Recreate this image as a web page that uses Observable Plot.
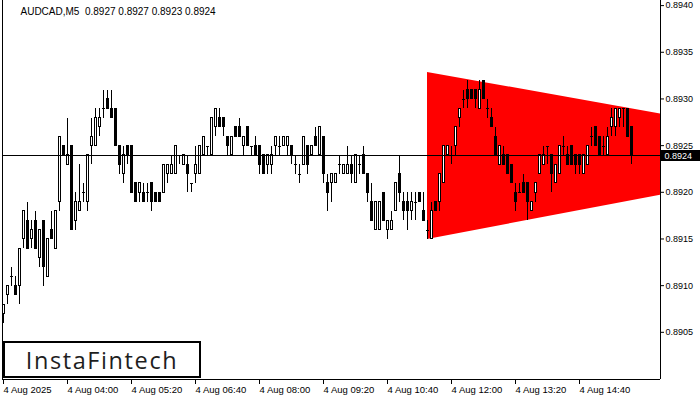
<!DOCTYPE html>
<html><head><meta charset="utf-8">
<script src="https://cdn.jsdelivr.net/npm/d3@7"></script>
<script src="https://cdn.jsdelivr.net/npm/@observablehq/plot@0.6"></script>
<style>
body{margin:0;background:#fff;}
#wrap{position:relative;width:700px;height:400px;overflow:hidden;background:#fff;}
#logo{position:absolute;left:3px;top:341px;width:194px;height:33px;border:2px solid #000;background:#fff;display:flex;align-items:center;justify-content:center;font-family:"Open Sans",sans-serif;font-weight:500;font-size:23.5px;letter-spacing:1.6px;color:#1e1e1e;}
</style></head><body>
<div id="wrap"><div id="logo">InstaFintech</div></div>
<script>
const symbol = "AUDCAD,M5";
const lastQuote = [0.8927, 0.8927, 0.8923, 0.8924];
const currentPrice = 0.8924;

const opens = [.8907,.8909,.8911,.8910,.8910,.8915,.8917,.8915,.8917,.8913,
.8917,.8911,.8916,.8914,.8919,.8925,.8923,.8925,.8917,.8918,
.8920,.8919,.8925,.8925,.8927,.8929,.8930,.8929,.8929,.8925,
.8922,.8925,.8925,.8921,.8920,.8920,.8920,.8921,.8920,.8920,
.8920,.8922,.8922,.8922,.8924,.8923,.8923,.8921,.8922,.8922,
.8924,.8925,.8924,.8927,.8928,.8928,.8926,.8924,.8927,.8927,
.8925,.8927,.8925,.8925,.8925,.8924,.8923,.8923,.8925,.8925,
.8925,.8925,.8925,.8923,.8922,.8923,.8925,.8924,.8926,.8924,
.8926,.8921,.8921,.8921,.8923,.8922,.8922,.8923,.8921,.8923,
.8924,.8922,.8919,.8916,.8916,.8920,.8916,.8916,.8918,.8922,
.8919,.8919,.8918,.8919,.8920,.8918,.8916,.8915,.8919,.8919,
.8921,.8924,.8924,.8925,.8928,.8930,.8931,.8931,.8931,.8929,
.8932,.8929,.8928,.8926,.8923,.8924,.8924,.8923,.8920,.8920,
.8921,.8921,.8918,.8920,.8922,.8923,.8925,.8924,.8921,.8922,
.8925,.8924,.8925,.8924,.8924,.8922,.8923,.8926,.8927,.8926,
.8925,.8924,.8927,.8927,.8928,.8929,.8929,.8927];

const highs = [.8908,.8910,.8912,.8911,.8914,.8918,.8919,.8917,.8918,.8916,
.8917,.8915,.8918,.8918,.8926,.8925,.8928,.8925,.8920,.8923,
.8921,.8924,.8928,.8929,.8929,.8931,.8931,.8931,.8929,.8925,
.8925,.8925,.8925,.8921,.8921,.8921,.8921,.8921,.8920,.8920,
.8923,.8923,.8924,.8925,.8924,.8924,.8924,.8921,.8925,.8925,
.8926,.8925,.8928,.8929,.8929,.8928,.8926,.8926,.8927,.8928,
.8926,.8927,.8925,.8926,.8925,.8924,.8924,.8925,.8926,.8926,
.8926,.8926,.8925,.8924,.8923,.8926,.8925,.8925,.8927,.8927,
.8926,.8922,.8922,.8922,.8924,.8923,.8925,.8924,.8924,.8924,
.8925,.8922,.8921,.8919,.8919,.8920,.8917,.8918,.8921,.8924,
.8920,.8920,.8920,.8920,.8920,.8920,.8917,.8919,.8919,.8922,
.8925,.8925,.8925,.8927,.8929,.8931,.8932,.8931,.8931,.8932,
.8932,.8930,.8929,.8927,.8925,.8925,.8924,.8923,.8921,.8921,
.8922,.8921,.8919,.8921,.8924,.8925,.8925,.8924,.8923,.8925,
.8926,.8925,.8925,.8924,.8924,.8924,.8925,.8927,.8927,.8926,
.8926,.8927,.8929,.8929,.8929,.8929,.8929,.8927];

const lows = [.8906,.8908,.8910,.8909,.8908,.8914,.8914,.8914,.8914,.8912,
.8910,.8911,.8915,.8914,.8918,.8924,.8923,.8916,.8916,.8918,
.8919,.8918,.8923,.8925,.8926,.8928,.8929,.8928,.8925,.8922,
.8921,.8923,.8920,.8919,.8919,.8919,.8919,.8918,.8919,.8919,
.8920,.8921,.8922,.8922,.8923,.8923,.8920,.8920,.8921,.8922,
.8924,.8924,.8924,.8926,.8927,.8926,.8924,.8924,.8926,.8926,
.8924,.8925,.8924,.8924,.8922,.8922,.8922,.8922,.8924,.8924,
.8925,.8924,.8923,.8922,.8921,.8923,.8922,.8924,.8925,.8924,
.8921,.8918,.8919,.8921,.8922,.8922,.8922,.8921,.8921,.8922,
.8922,.8919,.8917,.8916,.8916,.8917,.8915,.8916,.8918,.8919,
.8917,.8916,.8917,.8917,.8919,.8917,.8915,.8915,.8918,.8918,
.8921,.8924,.8923,.8924,.8927,.8929,.8929,.8930,.8929,.8929,
.8930,.8928,.8927,.8924,.8923,.8923,.8922,.8921,.8918,.8920,
.8920,.8917,.8918,.8919,.8922,.8923,.8923,.8920,.8921,.8922,
.8924,.8923,.8923,.8922,.8922,.8922,.8923,.8925,.8925,.8924,
.8924,.8924,.8926,.8926,.8927,.8927,.8926,.8923];

const closes = [.8908,.8910,.8911,.8909,.8914,.8918,.8914,.8916,.8914,.8916,
.8912,.8915,.8915,.8918,.8926,.8924,.8924,.8916,.8919,.8919,
.8920,.8924,.8926,.8928,.8928,.8929,.8929,.8928,.8925,.8923,
.8924,.8924,.8920,.8919,.8921,.8919,.8920,.8919,.8919,.8919,
.8923,.8923,.8923,.8925,.8924,.8924,.8922,.8921,.8923,.8925,
.8926,.8925,.8928,.8929,.8927,.8927,.8925,.8926,.8926,.8926,
.8926,.8925,.8925,.8924,.8923,.8922,.8924,.8924,.8926,.8925,
.8926,.8926,.8924,.8923,.8922,.8926,.8923,.8925,.8925,.8927,
.8922,.8920,.8922,.8922,.8923,.8923,.8923,.8922,.8924,.8923,
.8922,.8920,.8917,.8919,.8919,.8917,.8917,.8917,.8921,.8920,
.8918,.8918,.8919,.8919,.8919,.8917,.8916,.8918,.8918,.8922,
.8925,.8925,.8924,.8927,.8929,.8930,.8930,.8930,.8930,.8931,
.8930,.8929,.8927,.8924,.8925,.8923,.8922,.8921,.8919,.8920,
.8920,.8919,.8919,.8921,.8924,.8924,.8925,.8922,.8923,.8925,
.8925,.8923,.8923,.8923,.8923,.8924,.8925,.8926,.8925,.8924,
.8925,.8926,.8928,.8929,.8929,.8929,.8926,.8924];

// bar index of tick labels (one bar = 5 minutes, first bar = 02:40)
const xTickIndex = [0, 16, 32, 48, 64, 80, 96, 112, 128, 144];
const xTickLabels = ["4 Aug 2025","4 Aug 04:00","4 Aug 05:20","4 Aug 06:40","4 Aug 08:00","4 Aug 09:20","4 Aug 10:40","4 Aug 12:00","4 Aug 13:20","4 Aug 14:40"];
const yTicks = [0.8905, 0.8910, 0.8915, 0.8920, 0.8925, 0.8930, 0.8935, 0.8940];

// bearish symmetrical triangle pattern (bar index, upper, lower)
const patternIndex = [106, 170];
const patternUpper = [0.89329, 0.89280];
const patternLower = [0.89150, 0.89202];

const candles = opens.map((o, i) => ({i, o, h: highs[i], l: lows[i], c: closes[i]}));
const pattern = patternIndex.map((x, k) => ({x, y1: patternLower[k], y2: patternUpper[k]}));
const xMin = -0.25, xMax = 164.25;
const yMin = 0.8900, yMax = 0.89406;
const title = symbol + "  " + lastQuote.map(v => v.toFixed(4)).join(" ");
const font = "'Liberation Sans', Arial, sans-serif";
const priceLine = [{y: currentPrice, x1: xMin, x2: xMax}];
const priceBox = [{y: currentPrice, x1: xMax, x2: xMax + 10}];
const frameSides = [{x: xMin}, {x: xMax}];
const frameBottom = [{y: yMin, x1: xMin, x2: xMax}];
const crisp = "crispEdges";

const chart = Plot.plot({
  width: 700, height: 400,
  marginLeft: 2, marginRight: 40, marginTop: 0, marginBottom: 21,
  style: {fontFamily: font, fontSize: "9px", background: "transparent", color: "black", overflow: "visible"},
  x: {type: "linear", domain: [xMin, xMax], axis: null},
  y: {domain: [yMin, yMax], axis: null},
  marks: [
    Plot.areaY(pattern, {x: "x", y1: "y1", y2: "y2", fill: "#ff0000", clip: true}),
    Plot.ruleX(candles, {x: "i", y1: "l", y2: "h", stroke: "black", strokeWidth: 1, shapeRendering: crisp}),
    Plot.rect(candles.filter(d => d.o !== d.c), {
      x1: d => d.i - 0.25, x2: d => d.i + 0.25, y1: "o", y2: "c",
      fill: d => d.c > d.o ? "white" : "black", stroke: "black", strokeWidth: 1, shapeRendering: crisp
    }),
    Plot.ruleY(candles.filter(d => d.o === d.c), {y: "o", x1: d => d.i - 0.375, x2: d => d.i + 0.375, stroke: "black", shapeRendering: crisp}),
    Plot.ruleY(priceLine, {y: "y", x1: "x1", x2: "x2", stroke: "black", shapeRendering: crisp}),
    Plot.ruleX(frameSides, {x: "x", stroke: "black", shapeRendering: crisp}),
    Plot.ruleY(frameBottom, {y: "y", x1: "x1", x2: "x2", stroke: "black", shapeRendering: crisp}),
    Plot.axisY(yTicks, {anchor: "right", tickSize: 3, tickPadding: 2, tickFormat: d => d.toFixed(4), fontSize: 9, fill: "black", dy: -0.5}),
    Plot.axisX(xTickIndex, {anchor: "bottom", tickSize: 5, tickPadding: 2, textAnchor: "start", fontSize: 9.5,
      tickFormat: d => xTickLabels[xTickIndex.indexOf(d)]}),
    Plot.ruleY(priceBox, {y: "y", x1: "x1", x2: "x2", stroke: "black", strokeWidth: 11, shapeRendering: crisp}),
    Plot.text(priceBox, {x: "x1", y: "y", text: d => d.y.toFixed(4), fill: "white", textAnchor: "start", dx: 4, dy: 1, fontSize: 9}),
    Plot.text([title], {frameAnchor: "top-left", dx: 18, dy: 11, textAnchor: "start", lineAnchor: "middle", fontSize: 10, fill: "black"})
  ]
});
chart.style.position = "absolute";
chart.style.left = "0px";
chart.style.top = "0px";
const wrap = document.getElementById("wrap");
wrap.insertBefore(chart, wrap.firstChild);
</script>
</body></html>
